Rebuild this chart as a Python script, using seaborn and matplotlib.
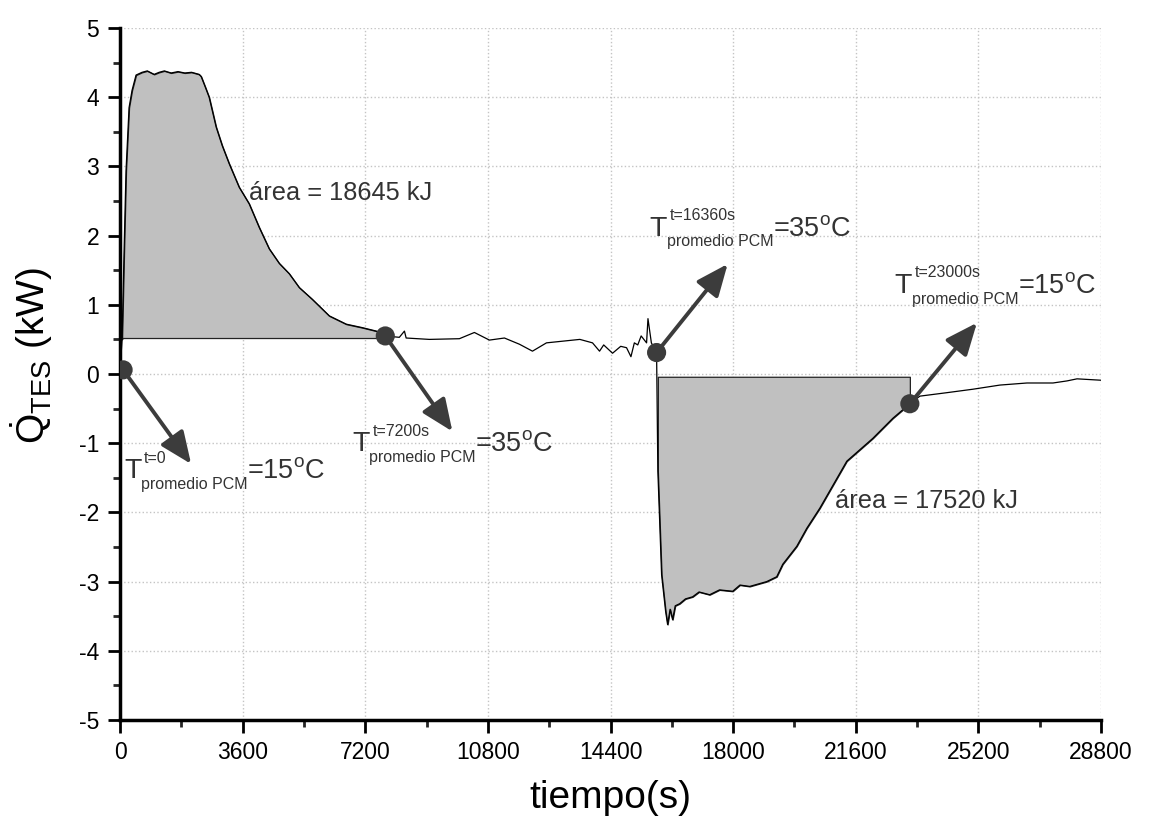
import numpy as np
import matplotlib
matplotlib.use("Agg")
import matplotlib.pyplot as plt
from matplotlib.ticker import MultipleLocator
import seaborn as sns

# ---------------- data ----------------
tiempo = np.array([
    0, 60, 120, 176, 265, 353, 470, 647, 800, 1000, 1150, 1300, 1500, 1700, 1900,
    2100, 2322, 2381, 2500, 2616, 2821, 3000, 3204, 3497, 3791, 4085, 4379, 4673,
    4967, 5261, 5643, 6143, 6642, 7112, 7524, 7788, 8200, 8350, 8400, 9082, 9963,
    10404, 10845, 11286, 11727, 12109, 12520, 13108, 13500, 13872, 14078, 14200,
    14460, 14700, 14871, 15000, 15100, 15200, 15300, 15459, 15500, 15600, 15753,
    15790, 15900, 16018, 16076, 16150, 16223, 16300, 16429, 16600, 16811, 17000,
    17311, 17600, 17987, 18200, 18487, 18986, 19280, 19456, 19868, 20162, 20544,
    21337, 22101, 22689, 23189, 23483, 24276, 25040, 25834, 26627, 27391, 27803,
    28097, 28800])
q_tes = np.array([
    0.05, 0.50, 1.80, 2.94, 3.85, 4.10, 4.32, 4.36, 4.38, 4.33, 4.36, 4.38, 4.35,
    4.37, 4.35, 4.36, 4.33, 4.30, 4.15, 4.00, 3.57, 3.30, 3.04, 2.70, 2.46, 2.12,
    1.81, 1.60, 1.45, 1.25, 1.08, 0.84, 0.72, 0.67, 0.62, 0.55, 0.53, 0.62, 0.52,
    0.50, 0.51, 0.60, 0.49, 0.52, 0.43, 0.33, 0.45, 0.48, 0.50, 0.45, 0.33, 0.42,
    0.30, 0.40, 0.38, 0.25, 0.45, 0.42, 0.55, 0.45, 0.80, 0.45, 0.31,
    -1.40, -2.90, -3.43, -3.62, -3.40, -3.55, -3.35, -3.32, -3.25, -3.22, -3.15,
    -3.19, -3.12, -3.14, -3.05, -3.07, -3.00, -2.93, -2.75, -2.49, -2.23, -1.94,
    -1.26, -0.93, -0.64, -0.43, -0.32, -0.27, -0.22, -0.16, -0.13, -0.13, -0.10,
    -0.07, -0.09])

# shaded areas: (start, end, baseline)
area_start = [60, 15790]
area_end = [7788, 23189]
area_base = [0.52, -0.04]
area_labels = ["área = 18645 kJ", "área = 17520 kJ"]
area_label_t = [3791, 20985]
area_label_q = [2.51, -1.94]

# marked points, arrow tips and their labels
pt_t = [90, 7788, 15753, 23189]
pt_q = [0.06, 0.55, 0.31, -0.43]
tip_t = [2087, 9758, 17840, 25158]
tip_q = [-1.30, -0.83, 1.59, 0.74]
lab_t = [118, 6818, 15547, 22748]
lab_q = [-1.51, -1.12, 2.00, 1.17]
lab_time = ["t=0", "t=7200s", "t=16360s", "t=23000s"]
lab_temp = ["15", "35", "35", "15"]

x_ticks = [0, 3600, 7200, 10800, 14400, 18000, 21600, 25200, 28800]
y_ticks = [-5, -4, -3, -2, -1, 0, 1, 2, 3, 4, 5]

# ---------------- style ----------------
sns.set_theme(style="ticks")
plt.rcParams['font.family'] = ['Liberation Sans', 'DejaVu Sans']
plt.rcParams['mathtext.fontset'] = 'custom'
plt.rcParams['mathtext.rm'] = 'Liberation Sans'
plt.rcParams['mathtext.it'] = 'Liberation Sans:italic'
plt.rcParams['mathtext.bf'] = 'Liberation Sans:bold'
plt.rcParams['axes.unicode_minus'] = False

fig = plt.figure(figsize=(11.52, 8.19), dpi=100)
ax = fig.add_axes([0.1042, 0.1209, 0.8515, 0.8449])

# shaded areas
for s, e, b in zip(area_start, area_end, area_base):
    m = (tiempo >= s) & (tiempo <= e)
    ax.fill_between(tiempo[m], q_tes[m], b, facecolor='#c0c0c0',
                    edgecolor='#222222', linewidth=0.9, zorder=2)

# curve
sns.lineplot(x=tiempo, y=q_tes, estimator=None, sort=False, color='black',
             linewidth=0.9, ax=ax, zorder=3)

# arrows
for x0, y0, x1, y1 in zip(pt_t, pt_q, tip_t, tip_q):
    ax.annotate("", xy=(x1, y1), xytext=(x0, y0),
                arrowprops=dict(arrowstyle='-|>,head_length=0.75,head_width=0.32',
                                color='#3c3c3c', lw=2.8, shrinkA=0, shrinkB=0,
                                mutation_scale=26), zorder=4)

# dots
sns.scatterplot(x=pt_t, y=pt_q, s=190, color='#3c3c3c', edgecolor='none',
                ax=ax, zorder=5)

# temperature labels: T, superscript, subscript, value
tc = '#333333'
for tt, qq, lt, tv in zip(lab_t, lab_q, lab_time, lab_temp):
    kw = dict(xy=(tt, qq), xycoords='data', textcoords='offset points',
              ha='left', va='baseline', color=tc, zorder=6)
    ax.annotate("T", xytext=(0, 0), fontsize=20.5, **kw)
    ax.annotate(lt, xytext=(14.4, 11.5), fontsize=11.5, **kw)
    ax.annotate("promedio PCM", xytext=(12.2, -7.6), fontsize=11.5, **kw)
    ax.annotate(r"=%s$^\mathrm{o}$C" % tv, xytext=(88.6, 0), fontsize=19.5, **kw)

for tt, qq, s in zip(area_label_t, area_label_q, area_labels):
    ax.text(tt, qq, s, fontsize=18.3, color=tc, ha='left', va='baseline', zorder=6)

# axes
ax.set_xlim(0, 28800)
ax.set_ylim(-5, 5)
ax.set_xticks(x_ticks)
ax.set_yticks(y_ticks)
ax.xaxis.set_minor_locator(MultipleLocator(1800))
ax.yaxis.set_minor_locator(MultipleLocator(0.5))
ax.tick_params(which='major', direction='out', length=9, width=2, labelsize=16.5,
               colors='black', pad=6)
ax.tick_params(which='minor', direction='out', length=5, width=2)
for side in ['top', 'right']:
    ax.spines[side].set_visible(False)
for side in ['left', 'bottom']:
    ax.spines[side].set_linewidth(2.5)
    ax.spines[side].set_color('black')
ax.grid(True, which='major', linestyle=':', color='#c4c4c4', linewidth=1)
ax.set_axisbelow(True)

ax.set_xlabel("tiempo(s)", fontsize=28, labelpad=12, color='black')
ax.set_ylabel(r"$\mathrm{\dot{Q}_{TES}}$ (kW)", fontsize=28, color='black')
ax.yaxis.set_label_coords(-0.066, 0.527)

fig.savefig("out.png", dpi=100, facecolor='white')
